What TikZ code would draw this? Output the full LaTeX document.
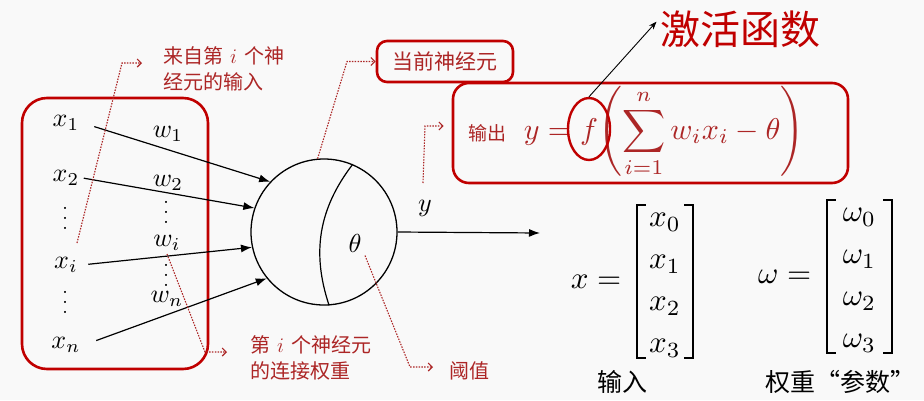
\documentclass[tikz,border=0pt]{standalone}
\usepackage{fontspec}
\newfontfamily\cjk{Noto Sans CJK SC}
\usetikzlibrary{arrows.meta,shapes,calc}
\definecolor{boxred}{RGB}{192,0,0}
\definecolor{notered}{RGB}{172,38,38}
\definecolor{bggray}{RGB}{249,249,249}
\newcommand{\tallvdots}{\vbox{\baselineskip=10pt\lineskiplimit=0pt\hbox{.}\hbox{.}\hbox{.}}}
\newcommand{\scaledmath}[2]{\scalebox{#1}{$#2$}}
\newcommand{\vecentries}[4]{\renewcommand\arraystretch{1.13}\scaledmath{3.1}{\begin{array}{@{}c@{}}#1\\#2\\#3\\#4\end{array}}}
\tikzstyle{redbox}=[draw=boxred,line width=2.6pt,inner sep=0pt]
\tikzstyle{sym}=[font=\fontsize{10}{12}\selectfont]
\tikzstyle{dotsym}=[font=\fontsize{26}{30}\selectfont]
\tikzstyle{formula}=[text=notered,font=\fontsize{10}{12}\selectfont,inner sep=0pt]
\tikzstyle{vcol}=[font=\fontsize{10}{12}\selectfont,inner xsep=0pt,inner ysep=-7.5pt]
\tikzstyle{brk}=[draw,line width=2.2pt]
\tikzstyle{inarrow}=[draw,line width=1.2pt,-{Latex[length=11pt,width=8pt]}]
\tikzstyle{note}=[draw=notered,line width=1.1pt,dash pattern=on 1.5pt off 1.3pt,-{Straight Barb[length=4pt,width=8pt]}]
\tikzstyle{notetext}=[text=notered,font=\cjk\fontsize{20}{26}\selectfont,align=left,inner sep=0pt]
\begin{document}
\begin{tikzpicture}[x=1pt,y=-1pt]
\fill[bggray] (0,0) rectangle (924,400);
\useasboundingbox (0,0) rectangle (924,400);

% inputs and weights
\foreach \pos/\name/\lab in {{(66,123)/x1/x_1},{(66,178)/x2/x_2},{(66,265)/xi/x_i},{(66,345)/xn/x_n}}
    \node[sym] (\name) at \pos {\scaledmath{2.6}{\lab}};
\foreach \pos/\name/\lab in {{(168,134)/w1/w_1},{(168,183)/w2/w_2},{(167,243)/wi/w_i},{(167,299)/wn/w_n}}
    \node[sym] (\name) at \pos {\scaledmath{2.6}{\lab}};
\foreach \pos/\name in {{(65,218)/xd1},{(65,302)/xd2},{(166,212)/wd1},{(166,275)/wd2}}
    \node[dotsym] (\name) at \pos {\tallvdots};
\node[redbox,rounded corners=25pt,minimum width=186pt,minimum height=271pt] (inbox) at (115,233.5) {};

% neuron
\node[draw,circle,line width=1.3pt,minimum size=146pt,inner sep=0pt] (neuron) at (324,232) {};
\draw[line width=1.2pt] (neuron.67) to[bend right=28] (neuron.-86);
\node[sym] (theta) at (355,243) {\scaledmath{2.6}{\theta}};
\node[sym] (ylab) at (425,208) {\scaledmath{2.6}{y}};
\coordinate (yout) at (540,233);

\foreach \src/\ang/\gap in {x1/137/12pt, x2/161/1pt, xi/192/7pt, xn/219/13pt}
    \draw[inarrow,shorten <=\gap] (\src.east) -- (neuron.\ang);
\draw[inarrow] (neuron.east) -- (yout);

% output formula
\node[redbox,rounded corners=16pt,minimum width=395pt,minimum height=100pt] (outbox) at (650.5,133) {};
\node[text=notered,font=\cjk\fontsize{19}{22}\selectfont] (outlab) at (487,133) {输出};
\node[formula,anchor=base] (fsym) at (589,139) {\scaledmath{3}{f}};
\node[formula,anchor=base east] (yeq) at (fsym.base west) {\scaledmath{3}{y={}}};
\node[formula,anchor=base west] (fargs) at (fsym.base east) {\scaledmath{3}{\displaystyle\left(\sum_{i=1}^{n} w_i x_i - \theta\right)}};
\node[draw=boxred,line width=2.4pt,ellipse,minimum width=42pt,minimum height=62pt,inner sep=0pt] (fring) at (589,129) {};
\node[text=boxred,font=\cjk\fontsize{40}{44}\selectfont] (act) at (740,29) {激活函数};
\draw[line width=0.9pt,-{Stealth[length=8pt,width=6pt]}] (fring.north) -- (act.175);

% notes
\node[redbox,rounded corners=10pt,minimum width=136pt,minimum height=41pt,text=notered,font=\cjk\fontsize{21}{24}\selectfont] (curbox) at (445,61.5) {当前神经元};
\node[notetext,anchor=north west] (innote) at (163,46) {来自第\hspace{7pt}$i$\hspace{7pt}个神\\经元的输入};
\node[notetext,anchor=north west] (wnote) at (250,335) {第\hspace{7pt}$i$\hspace{7pt}个神经元\\的连接权重};
\node[notetext,anchor=west] (thnote) at (449,371) {阈值};

\coordinate (xiS) at (77,243);
\coordinate (c1) at (122,63);
\draw[note,shorten >=21pt] (xiS) -- (c1) -- (c1 -| innote.west);
\coordinate (c2) at (347,61.5);
\draw[note] (neuron.95) -- (c2) -- (curbox.west);
\coordinate (yS) at (423,183);
\coordinate (c3) at (425,126);
\draw[note,shorten >=8pt] (yS) -- (c3) -- (c3 -| outbox.west);
\coordinate (c4) at (205,352);
\draw[note,shorten >=23pt] (wi.south) -- (c4) -- (c4 -| wnote.west);
\coordinate (c5) at (410,367);
\draw[note,shorten >=16pt] (theta.south east) -- (c5) -- (c5 -| thnote.west);

% vectors
\node[vcol,minimum width=56pt] (xcol) at (665,281.5) {\vecentries{x_0}{x_1}{x_2}{x_3}};
\node[vcol,minimum width=65pt] (wcol) at (859.5,276.5) {\vecentries{\omega_0}{\omega_1}{\omega_2}{\omega_3}};
\node[sym,anchor=east] (xeq) at ([xshift=-12pt]xcol.west) {\scaledmath{3.1}{x=}};
\node[sym,anchor=east] (weq) at ([xshift=-12pt]wcol.west) {\scaledmath{3.1}{\omega=}};
\foreach \v in {xcol,wcol} {
    \draw[brk] ([xshift=9pt]\v.north west) -- (\v.north west) -- (\v.south west) -- ([xshift=9pt]\v.south west);
    \draw[brk] ([xshift=-9pt]\v.north east) -- (\v.north east) -- (\v.south east) -- ([xshift=-9pt]\v.south east);
}
\node[font=\cjk\fontsize{25}{30}\selectfont] (inlab) at (622,382) {输入};
\node[font=\cjk\fontsize{25}{30}\selectfont] (wlab) at (840,382) {权重“参数”};

\end{tikzpicture}
\end{document}
